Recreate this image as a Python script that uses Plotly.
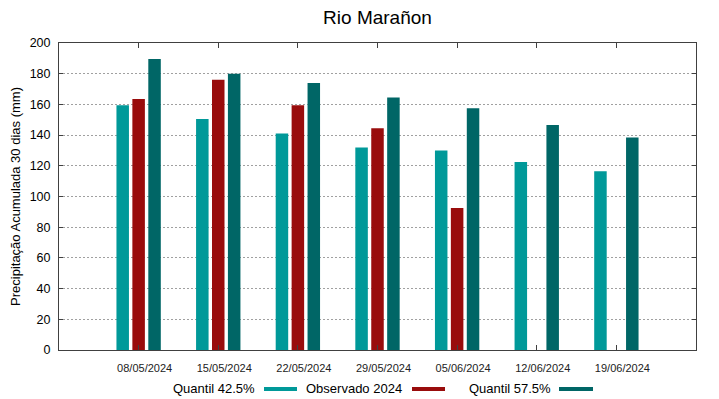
import plotly.graph_objects as go

dates = ["08/05/2024", "15/05/2024", "22/05/2024", "29/05/2024", "05/06/2024", "12/06/2024", "19/06/2024"]
quantil_425 = [159.5, 150.5, 141, 132, 130, 122.5, 116.5]
observado_2024 = [163.5, 176, 159.5, 144.5, 92.5, None, None]
quantil_575 = [189.5, 180, 174, 164.5, 157.5, 146.5, 138.5]

series_names = ["Quantil 42.5%", "Observado 2024", "Quantil 57.5%"]
series_values = [quantil_425, observado_2024, quantil_575]
colors = ["#009999", "#990c0c", "#006666"]

OFF = 8  # default body margin of the html page
W, H = 719 - OFF, 399 - OFF
# plot area in page pixels: x 59..696, y 43..350
ML, MT = 59 - OFF, 43 - OFF
PW, PH = 696 - 59, 350 - 43
MR = W - ML - PW
MB = H - MT - PH

fig = go.Figure()
for name, vals, col in zip(series_names, series_values, colors):
    fig.add_trace(go.Bar(x=dates, y=vals, name=name, marker_color=col,
                         marker_line_width=0, showlegend=False))

font = "Liberation Sans, Arial, sans-serif"
fig.update_layout(
    width=W, height=H,
    margin=dict(l=ML, r=MR, t=MT, b=MB, autoexpand=False),
    paper_bgcolor="white", plot_bgcolor="white",
    barmode="group", bargap=0.4, bargroupgap=0.215,
    font=dict(family=font, color="black"),
    title=dict(text="Rio Marañon", x=0.5, xref="paper", xanchor="center",
               y=1 - (17 - OFF) / H, yref="container", yanchor="middle",
               font=dict(size=19, family=font, color="black")),
)
fig.update_xaxes(
    type="category", range=[-1, len(dates)],
    showline=True, linecolor="#404040", linewidth=1, mirror="allticks",
    ticks="inside", ticklen=5, tickcolor="#404040",
    tickfont=dict(size=11, color="#222"), ticklabelstandoff=8,
    ticklabelshift=6,
    showgrid=False, zeroline=False,
)
fig.update_yaxes(
    range=[0, 200], dtick=20,
    showline=True, linecolor="#404040", linewidth=1, mirror="allticks",
    ticks="inside", ticklen=4, tickcolor="#404040",
    tickfont=dict(size=12.5, color="black"), ticklabelstandoff=5,
    showgrid=True, gridcolor="#a0a0a0", gridwidth=1, griddash="2px,2px",
    zeroline=False,
    title=dict(text="Precipitação Acumulada 30 dias (mm)",
               font=dict(size=13, color="black"), standoff=7),
)

# gnuplot-style key: text followed by a line sample (page pixel positions)
legend_items = [
    (series_names[0], colors[0], 257, 264, 297),
    (series_names[1], colors[1], 404, 412, 445),
    (series_names[2], colors[2], 553, 559, 593),
]
ly = 388
for text, col, tx, s0, s1 in legend_items:
    fig.add_annotation(text=text, xref="paper", yref="paper",
                       x=(tx - 59) / PW, y=(350 - ly) / PH,
                       xanchor="right", yanchor="middle", showarrow=False,
                       font=dict(size=13, family=font, color="black"))
    fig.add_shape(type="line", xref="paper", yref="paper",
                  x0=(s0 - 59) / PW, x1=(s1 - 59) / PW,
                  y0=(350 - ly - 1) / PH, y1=(350 - ly - 1) / PH,
                  line=dict(color=col, width=4))

fig.write_html("out.html")
